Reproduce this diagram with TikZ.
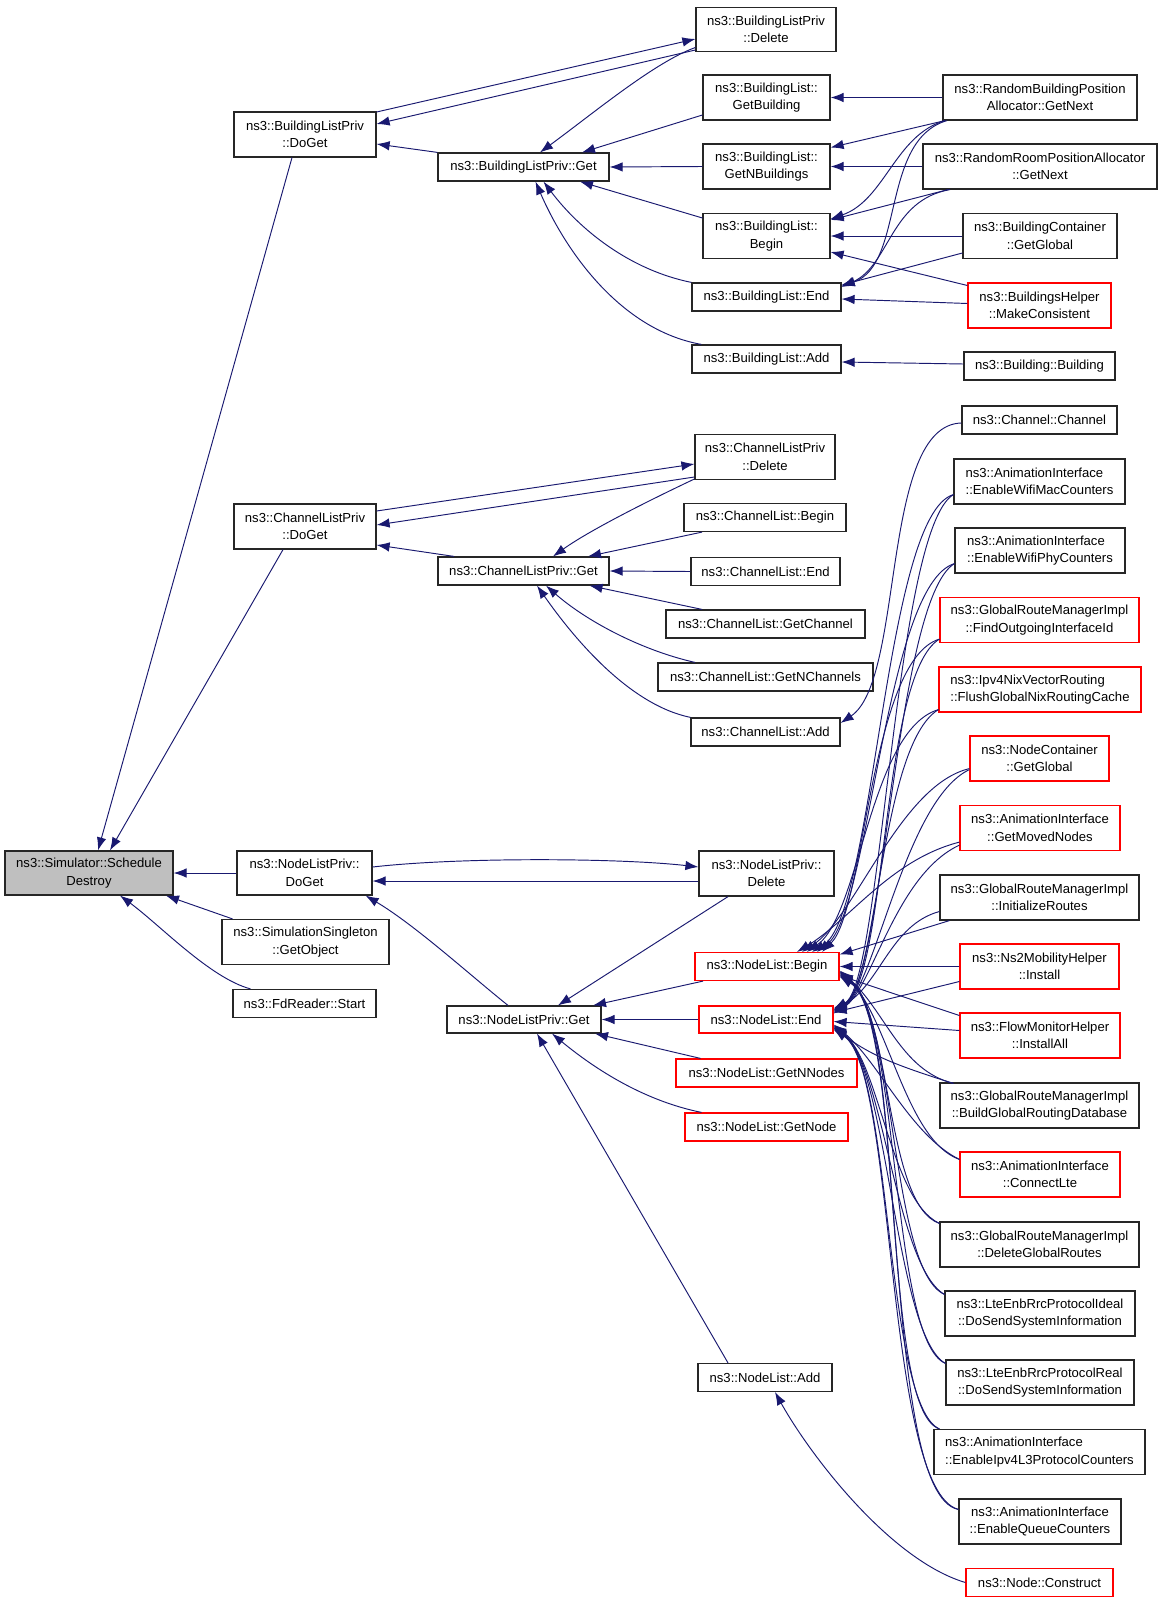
\documentclass[tikz,border=0pt]{standalone}
\usepackage{fontspec}
\usetikzlibrary{arrows.meta}
\newfontfamily\gfont{Liberation Sans}
\definecolor{edgec}{HTML}{191970}
\definecolor{rootfill}{HTML}{BFBFBF}
\definecolor{rboxc}{HTML}{FF0000}
\begin{document}
\begin{tikzpicture}[x=1pt,y=-1pt,
  box/.style={draw=black!85, line width=1.2pt, fill=white, inner sep=0pt, align=center,
    font=\gfont\fontsize{13.1}{17.5}\selectfont},
  lbox/.style={box, align=left},
  rbox/.style={box, draw=rboxc},
  lrbox/.style={rbox, align=left},
  e/.style={draw=edgec, line width=0.95pt, -{Latex[length=13pt,width=9.5pt]}},
]
\useasboundingbox (0,0) rectangle (1163,1603);
\fill[white] (0,0) rectangle (1163,1603);

% ---- nodes ----
\node[box, fill=rootfill, minimum width=168pt, minimum height=44pt] (SD) at (89,873) {ns3::Simulator::Schedule\\Destroy};

\node[box, minimum width=142pt, minimum height=45pt] (BLPdoget) at (305,134.5) {ns3::BuildingListPriv\\::DoGet};
\node[box, minimum width=171pt, minimum height=28pt] (BLPget) at (523.5,167) {ns3::BuildingListPriv::Get};
\node[box, minimum width=140pt, minimum height=44pt] (BLPdel) at (766,29.5) {ns3::BuildingListPriv\\::Delete};
\node[box, minimum width=127pt, minimum height=45pt] (BLgetb) at (766.5,97.5) {ns3::BuildingList::\\GetBuilding};
\node[box, minimum width=127pt, minimum height=45pt] (BLgetn) at (766.5,166.5) {ns3::BuildingList::\\GetNBuildings};
\node[box, minimum width=127pt, minimum height=45pt] (BLbegin) at (766.5,236) {ns3::BuildingList::\\Begin};
\node[box, minimum width=149pt, minimum height=28pt] (BLend) at (766.5,297) {ns3::BuildingList::End};
\node[box, minimum width=149pt, minimum height=28pt] (BLadd) at (766.5,359) {ns3::BuildingList::Add};
\node[box, minimum width=194pt, minimum height=45pt] (RBPA) at (1040,97.5) {ns3::RandomBuildingPosition\\Allocator::GetNext};
\node[box, minimum width=234pt, minimum height=45pt] (RRPA) at (1040,166.5) {ns3::RandomRoomPositionAllocator\\::GetNext};
\node[box, minimum width=154pt, minimum height=45pt] (BCgg) at (1040,236) {ns3::BuildingContainer\\::GetGlobal};
\node[rbox, minimum width=143pt, minimum height=45pt] (BHmc) at (1039.5,305.5) {ns3::BuildingsHelper\\::MakeConsistent};
\node[box, minimum width=151pt, minimum height=28pt] (Bbld) at (1039.5,366) {ns3::Building::Building};

\node[box, minimum width=142pt, minimum height=45pt] (CLPdoget) at (305,526.5) {ns3::ChannelListPriv\\::DoGet};
\node[box, minimum width=171pt, minimum height=28pt] (CLPget) at (523.5,571) {ns3::ChannelListPriv::Get};
\node[box, minimum width=140pt, minimum height=45pt] (CLPdel) at (765,457) {ns3::ChannelListPriv\\::Delete};
\node[box, minimum width=162pt, minimum height=28pt] (CLbegin) at (765,517.5) {ns3::ChannelList::Begin};
\node[box, minimum width=149pt, minimum height=28pt] (CLend) at (765.5,571.5) {ns3::ChannelList::End};
\node[box, minimum width=199pt, minimum height=28pt] (CLgetch) at (765.5,624) {ns3::ChannelList::GetChannel};
\node[box, minimum width=215pt, minimum height=28pt] (CLgetn) at (765.5,677) {ns3::ChannelList::GetNChannels};
\node[box, minimum width=149pt, minimum height=28pt] (CLadd) at (765.5,732) {ns3::ChannelList::Add};

\node[box, minimum width=155pt, minimum height=28pt] (CC) at (1039.5,420) {ns3::Channel::Channel};
\node[lbox, minimum width=171pt, minimum height=45pt] (WMac) at (1039.5,481.5) {ns3::AnimationInterface\\::EnableWifiMacCounters};
\node[lbox, minimum width=170pt, minimum height=45pt] (WPhy) at (1040,550.5) {ns3::AnimationInterface\\::EnableWifiPhyCounters};
\node[rbox, minimum width=199pt, minimum height=45pt] (FOII) at (1039.5,620) {ns3::GlobalRouteManagerImpl\\::FindOutgoingInterfaceId};
\node[lrbox, minimum width=202pt, minimum height=45pt] (FGNRC) at (1040,689.5) {ns3::Ipv4NixVectorRouting\\::FlushGlobalNixRoutingCache};
\node[rbox, minimum width=139pt, minimum height=45pt] (NCgg) at (1039.5,758.5) {ns3::NodeContainer\\::GetGlobal};
\node[rbox, minimum width=160pt, minimum height=45pt] (GMN) at (1040,828) {ns3::AnimationInterface\\::GetMovedNodes};
\node[box, minimum width=199pt, minimum height=45pt] (IR) at (1039.5,897.5) {ns3::GlobalRouteManagerImpl\\::InitializeRoutes};
\node[rbox, minimum width=159pt, minimum height=45pt] (NS2) at (1039.5,966.5) {ns3::Ns2MobilityHelper\\::Install};
\node[rbox, minimum width=160pt, minimum height=45pt] (FMH) at (1040,1035.5) {ns3::FlowMonitorHelper\\::InstallAll};
\node[box, minimum width=199pt, minimum height=45pt] (BGRD) at (1039.5,1105.5) {ns3::GlobalRouteManagerImpl\\::BuildGlobalRoutingDatabase};
\node[rbox, minimum width=160pt, minimum height=45pt] (CLte) at (1040,1174.5) {ns3::AnimationInterface\\::ConnectLte};
\node[box, minimum width=199pt, minimum height=45pt] (DGR) at (1039.5,1244.5) {ns3::GlobalRouteManagerImpl\\::DeleteGlobalRoutes};
\node[box, minimum width=190pt, minimum height=45pt] (LteI) at (1040,1313.5) {ns3::LteEnbRrcProtocolIdeal\\::DoSendSystemInformation};
\node[box, minimum width=188pt, minimum height=45pt] (LteR) at (1040,1382.5) {ns3::LteEnbRrcProtocolReal\\::DoSendSystemInformation};
\node[lbox, minimum width=211pt, minimum height=45pt] (Ipv4L3) at (1039.5,1452) {ns3::AnimationInterface\\::EnableIpv4L3ProtocolCounters};
\node[box, minimum width=162pt, minimum height=45pt] (EQC) at (1040,1521.5) {ns3::AnimationInterface\\::EnableQueueCounters};
\node[rbox, minimum width=147pt, minimum height=28pt] (NodeC) at (1039.5,1582.5) {ns3::Node::Construct};

\node[box, minimum width=135pt, minimum height=44pt] (NLPdoget) at (304.5,873) {ns3::NodeListPriv::\\DoGet};
\node[box, minimum width=167pt, minimum height=45pt] (SSgo) at (305.5,942) {ns3::SimulationSingleton\\::GetObject};
\node[box, minimum width=143pt, minimum height=28pt] (FdR) at (304.5,1003.5) {ns3::FdReader::Start};
\node[box, minimum width=135pt, minimum height=45pt] (NLPdel) at (766.5,873.5) {ns3::NodeListPriv::\\Delete};
\node[rbox, minimum width=144pt, minimum height=28pt] (NLbegin) at (767,966.5) {ns3::NodeList::Begin};
\node[rbox, minimum width=134pt, minimum height=27pt] (NLend) at (766,1019.5) {ns3::NodeList::End};
\node[rbox, minimum width=181pt, minimum height=28pt] (NLgetnn) at (766.5,1073) {ns3::NodeList::GetNNodes};
\node[rbox, minimum width=163pt, minimum height=28pt] (NLgetn) at (766.5,1127) {ns3::NodeList::GetNode};
\node[box, minimum width=154pt, minimum height=27pt] (NLPget) at (524,1019.5) {ns3::NodeListPriv::Get};
\node[box, minimum width=134pt, minimum height=28pt] (NLadd) at (765,1377.5) {ns3::NodeList::Add};

% ---- edges to root ----
\draw[e] ([xshift=-13pt]BLPdoget.south) -- ([xshift=9pt]SD.north);
\draw[e] ([xshift=-22pt]CLPdoget.south) -- ([xshift=21pt]SD.north);
\draw[e] (NLPdoget.west) -- (SD.east);
\draw[e] ([xshift=-73pt]SSgo.north) -- ([xshift=77pt]SD.south);
\draw[e] ([xshift=-54pt]FdR.north) .. controls (210,978) and (160,925) .. ([xshift=31pt]SD.south);

% ---- building list ----
\draw[e] ([yshift=22.5pt]BLPdoget.east) -- ([yshift=-9.5pt]BLPdel.west);
\draw[e] ([yshift=-20.5pt]BLPdel.west) -- ([yshift=10.5pt]BLPdoget.east);
\draw[e] ([yshift=-18pt]BLPdel.west) .. controls (655,62) and (595,112) .. ([xshift=16.5pt]BLPget.north);
\draw[e] (BLPget.north west) -- ([yshift=-9.5pt]BLPdoget.east);
\draw[e] ([yshift=-17.5pt]BLgetb.west) -- ([xshift=58.5pt]BLPget.north);
\draw[e] (BLgetn.west) -- (BLPget.east);
\draw[e] ([yshift=18pt]BLbegin.west) -- ([xshift=56.5pt]BLPget.south);
\draw[e] (BLend.north west) .. controls (630,270) and (580,230) .. ([xshift=20pt]BLPget.south);
\draw[e] ([xshift=10pt]BLadd.north west) .. controls (620,330) and (565,250) .. ([xshift=12pt]BLPget.south);

\draw[e] (RBPA.west) -- (BLgetb.east);
\draw[e] ([xshift=-95pt]RBPA.south) -- ([yshift=19pt]BLgetn.east);
\draw[e] (RRPA.west) -- (BLgetn.east);
\draw[e] ([xshift=-95pt]RBPA.south) .. controls (895,135) and (885,200) .. ([yshift=17pt]BLbegin.east);
\draw[e] ([xshift=-93pt]RBPA.south) .. controls (880,140) and (905,265) .. ([yshift=11pt]BLend.east);
\draw[e] ([xshift=-92pt]RRPA.south) -- ([yshift=16pt]BLbegin.east);
\draw[e] ([xshift=-90pt]RRPA.south) .. controls (890,200) and (890,265) .. ([yshift=10pt]BLend.east);
\draw[e] (BCgg.west) -- (BLbegin.east);
\draw[e] ([yshift=-17pt]BCgg.west) -- ([yshift=12pt]BLend.east);
\draw[e] ([yshift=20pt]BHmc.west) -- ([yshift=-16pt]BLbegin.east);
\draw[e] ([yshift=2pt]BHmc.west) -- ([yshift=-2pt]BLend.east);
\draw[e] ([yshift=2pt]Bbld.west) -- ([yshift=-3pt]BLadd.east);

% ---- channel list ----
\draw[e] ([yshift=15.5pt]CLPdoget.east) -- ([yshift=-7pt]CLPdel.west);
\draw[e] ([yshift=-20pt]CLPdel.west) -- ([yshift=1.5pt]CLPdoget.east);
\draw[e] ([xshift=-69.5pt]CLPget.north) -- ([yshift=-18.5pt]CLPdoget.east);
\draw[e] ([yshift=-22pt]CLPdel.west) .. controls (650,500) and (590,530) .. ([xshift=29.5pt]CLPget.north);
\draw[e] ([xshift=-63pt]CLbegin.south) -- ([xshift=64.5pt]CLPget.north);
\draw[e] (CLend.west) -- (CLPget.east);
\draw[e] ([xshift=-63.5pt]CLgetch.north) -- ([xshift=66pt]CLPget.south);
\draw[e] ([xshift=-70.5pt]CLgetn.north) .. controls (640,650) and (585,620) .. ([xshift=22.5pt]CLPget.south);
\draw[e] ([xshift=-75pt]CLadd.north) .. controls (630,705) and (575,640) .. ([xshift=13.5pt]CLPget.south);
\draw[e] ([yshift=-3pt]CC.west) .. controls (880,425) and (905,680) .. ([yshift=9pt]CLadd.east);

% ---- node list priv ----
\draw[e] ([yshift=6pt]NLPdoget.east) .. controls (460,857) and (620,858) .. ([yshift=6.5pt]NLPdel.west);
\draw[e] ([yshift=-7.5pt]NLPdel.west) -- ([yshift=-8pt]NLPdoget.east);
\draw[e] ([xshift=-16pt]NLPget.north) .. controls (470,975) and (415,925) .. ([xshift=-7pt]NLPdoget.south east);
\draw[e] ([xshift=-38.5pt]NLPdel.south) -- ([xshift=34pt]NLPget.north);
\draw[e] ([xshift=-64pt]NLbegin.south) -- ([xshift=69pt]NLPget.north);
\draw[e] (NLend.west) -- (NLPget.east);
\draw[e] ([xshift=-66pt]NLgetnn.north) -- ([xshift=71pt]NLPget.south);
\draw[e] ([xshift=-65pt]NLgetn.north) .. controls (640,1100) and (590,1065) .. ([xshift=28pt]NLPget.south);
\draw[e] ([xshift=-37pt]NLadd.north) -- ([xshift=13pt]NLPget.south);
\draw[e] (NodeC.west) .. controls (890,1560) and (810,1455) .. ([xshift=10pt]NLadd.south);

% ---- upper callers of NodeList::Begin / End ----
\draw[e] ([yshift=10pt]WMac.south west) .. controls (884,515) and (875,915) .. ([xshift=45pt]NLbegin.north);
\draw[e] ([yshift=10pt]WMac.south west) .. controls (894,530) and (882,985) .. ([yshift=11pt]NLend.east);
\draw[e] ([yshift=10pt]WPhy.south west) .. controls (885,585) and (870,912) .. ([xshift=50pt]NLbegin.north);
\draw[e] ([yshift=10pt]WPhy.south west) .. controls (895,600) and (885,982) .. ([yshift=10pt]NLend.east);
\draw[e] ([yshift=4pt]FOII.south west) .. controls (870,660) and (865,910) .. ([xshift=55pt]NLbegin.north);
\draw[e] ([yshift=4pt]FOII.south west) .. controls (880,675) and (888,980) .. ([yshift=9pt]NLend.east);
\draw[e] ([yshift=3pt]FGNRC.south west) .. controls (870,730) and (860,915) .. ([xshift=40pt]NLbegin.north);
\draw[e] ([yshift=3pt]FGNRC.south west) .. controls (880,745) and (878,985) .. ([yshift=8pt]NLend.east);
\draw[e] ([yshift=13pt]NCgg.south west) .. controls (900,785) and (855,918) .. ([xshift=35pt]NLbegin.north);
\draw[e] ([yshift=12pt]NCgg.south west) .. controls (905,800) and (875,988) .. ([yshift=7pt]NLend.east);
\draw[e] ([yshift=9pt]GMN.south west) .. controls (890,860) and (850,920) .. ([xshift=30pt]NLbegin.north);
\draw[e] ([yshift=6pt]GMN.south west) .. controls (895,875) and (872,990) .. ([yshift=6pt]NLend.east);

% ---- middle callers ----
\draw[e] ([xshift=10pt]IR.south west) -- ([yshift=12pt]NLbegin.east);
\draw[e] ([yshift=-14pt]IR.west) .. controls (890,925) and (880,985) .. ([yshift=9pt]NLend.east);
\draw[e] (NS2.west) -- (NLbegin.east);
\draw[e] ([yshift=-15pt]NS2.west) -- ([yshift=7pt]NLend.east);
\draw[e] ([yshift=20pt]FMH.west) -- ([yshift=-9pt]NLbegin.east);
\draw[e] ([yshift=5pt]FMH.west) -- ([yshift=-2pt]NLend.east);

% ---- lower callers of NodeList::Begin / End ----
\draw[e] ([xshift=14pt,yshift=-1pt]BGRD.north west) .. controls (900,1070) and (885,1010) .. ([yshift=-4pt]NLbegin.east);
\draw[e] ([xshift=14pt,yshift=-1pt]BGRD.north west) .. controls (895,1065) and (870,1055) .. ([yshift=-8pt]NLend.east);
\draw[e] ([yshift=-8pt]CLte.north west) .. controls (905,1140) and (888,1015) .. ([yshift=-5pt]NLbegin.east);
\draw[e] ([yshift=-8pt]CLte.north west) .. controls (910,1135) and (878,1060) .. ([yshift=-5pt]NLend.east);
\draw[e] ([yshift=-2pt]DGR.north west) .. controls (885,1205) and (892,1012) .. ([yshift=-6pt]NLbegin.east);
\draw[e] ([yshift=-2pt]DGR.north west) .. controls (890,1200) and (880,1062) .. ([yshift=-6pt]NLend.east);
\draw[e] ([yshift=-4pt]LteI.north west) .. controls (890,1270) and (896,1012) .. ([yshift=-7pt]NLbegin.east);
\draw[e] ([yshift=-4pt]LteI.north west) .. controls (895,1265) and (884,1064) .. ([yshift=-7pt]NLend.east);
\draw[e] ([yshift=-4pt]LteR.north west) .. controls (890,1340) and (900,1014) .. ([yshift=-8pt]NLbegin.east);
\draw[e] ([yshift=-4pt]LteR.north west) .. controls (895,1335) and (888,1066) .. ([yshift=-8pt]NLend.east);
\draw[e] ([xshift=6pt]Ipv4L3.north west) .. controls (880,1410) and (905,1016) .. ([yshift=-9pt]NLbegin.east);
\draw[e] ([xshift=6pt]Ipv4L3.north west) .. controls (885,1405) and (892,1068) .. ([yshift=-9pt]NLend.east);
\draw[e] ([yshift=-11pt]EQC.north west) .. controls (880,1495) and (908,1018) .. ([yshift=-10pt]NLbegin.east);
\draw[e] ([yshift=-11pt]EQC.north west) .. controls (885,1490) and (896,1070) .. ([yshift=-10pt]NLend.east);
\end{tikzpicture}
\end{document}
